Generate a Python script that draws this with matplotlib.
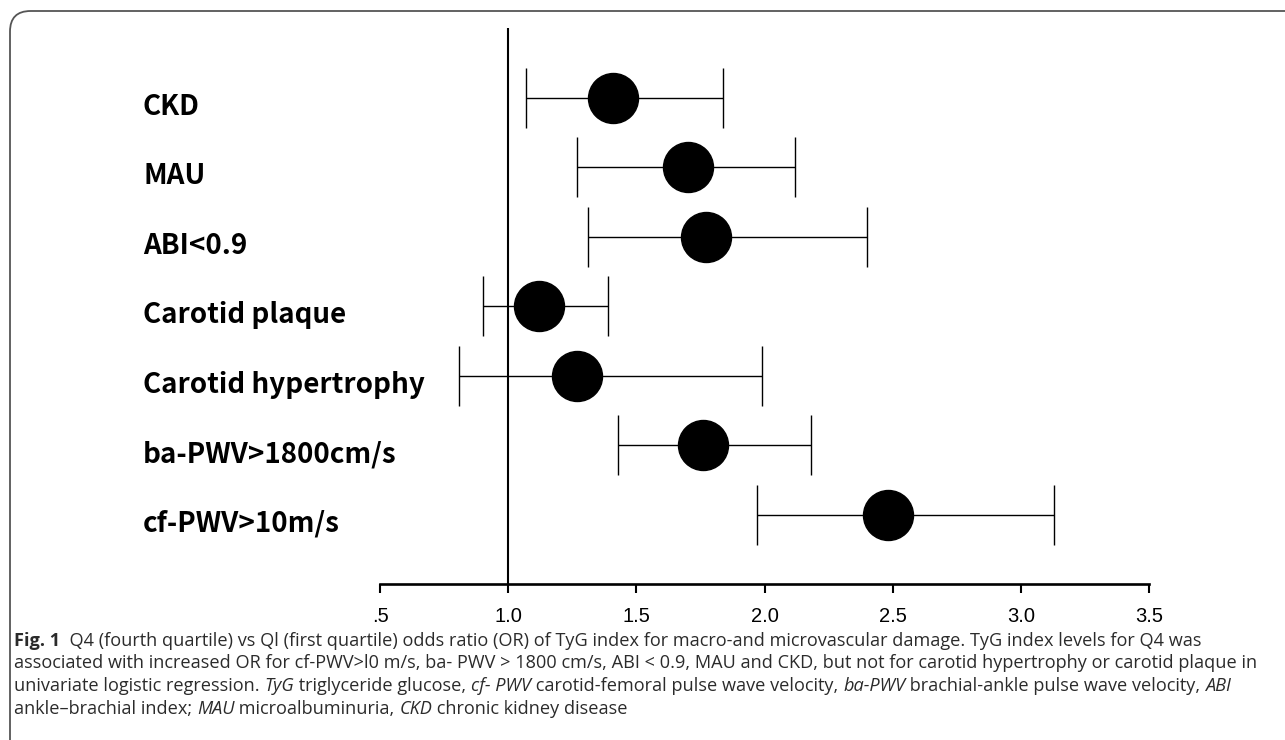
import numpy as np
import matplotlib.pyplot as plt
import matplotlib.transforms as mtransforms
from matplotlib.patches import FancyBboxPatch

# odds ratios (Q4 vs Q1) with 95% CI, top to bottom
labels = ["CKD", "MAU", "ABI<0.9", "Carotid plaque", "Carotid hypertrophy",
          "ba-PWV>1800cm/s", "cf-PWV>10m/s"]
or_vals = [1.41, 1.70, 1.77, 1.12, 1.27, 1.76, 2.48]
ci_low = [1.07, 1.27, 1.31, 0.90, 0.81, 1.43, 1.97]
ci_high = [1.84, 2.12, 2.40, 1.39, 1.99, 2.18, 3.13]
xticks = [0.5, 1.0, 1.5, 2.0, 2.5, 3.0, 3.5]
xticklabels = [".5", "1.0", "1.5", "2.0", "2.5", "3.0", "3.5"]

caption = [
    [("Fig. 1", "bold"), ("  Q4 (fourth quartile) vs Ql (first quartile) odds ratio (OR) of TyG index for macro-and microvascular damage. TyG index levels for Q4 was", "normal")],
    [("associated with increased OR for cf-PWV>l0 m/s, ba- PWV > 1800 cm/s, ABI < 0.9, MAU and CKD, but not for carotid hypertrophy or carotid plaque in", "normal")],
    [("univariate logistic regression. ", "normal"), ("TyG", "italic"), (" triglyceride glucose, ", "normal"),
     ("cf- PWV", "italic"), (" carotid-femoral pulse wave velocity, ", "normal"), ("ba-PWV", "italic"),
     (" brachial-ankle pulse wave velocity, ", "normal"), ("ABI", "italic")],
    [("ankle\u2013brachial index; ", "normal"), ("MAU", "italic"), (" microalbuminuria, ", "normal"),
     ("CKD", "italic"), (" chronic kidney disease", "normal")],
]

W, H = 1285, 740
fig = plt.figure(figsize=(W / 100, H / 100), dpi=100)
fig.patch.set_facecolor("white")

# rounded frame running off the right and bottom edges
frame = FancyBboxPatch((10 / W, -40 / H), 1320 / W, (H - 11 + 40) / H,
                       boxstyle="round,pad=0,rounding_size=0.016",
                       transform=fig.transFigure, fill=False,
                       edgecolor="#555555", linewidth=1.3, mutation_aspect=W / H)
fig.patches.append(frame)

ax = fig.add_axes([380 / W, 1 - 584.3 / H, 769 / W, (584.3 - 28) / H])
rows = np.arange(1, len(labels) + 1)
err = [np.array(or_vals) - np.array(ci_low), np.array(ci_high) - np.array(or_vals)]

ax.axvline(1.0, color="black", linewidth=1.5, zorder=1)
ax.errorbar(or_vals, rows, xerr=err, fmt="o", color="black", ecolor="black",
            elinewidth=1.0, capsize=21.5, capthick=1.0, markersize=36, zorder=3)

ax.set_xlim(0.5, 3.5)
ax.set_ylim(8, 0)
ax.set_xticks(xticks)
ax.set_xticklabels(xticklabels, fontfamily="Liberation Sans", fontsize=14.5)
ax.set_yticks([])
for s in ["top", "right", "left"]:
    ax.spines[s].set_visible(False)
ax.spines["bottom"].set_linewidth(1.9)
ax.tick_params(axis="x", direction="out", length=6.5, width=1.5, pad=10)

off = mtransforms.ScaledTranslation(0, -9 / 100, fig.dpi_scale_trans)
for y, lab in zip(rows, labels):
    ax.text((143 - 380) / 769, y, lab, transform=ax.get_yaxis_transform() + off,
            ha="left", va="center", fontsize=20, fontweight="bold",
            fontfamily="Noto Sans CJK SC", color="black")

# caption, drawn run by run so bold/italic pieces sit inline
fig.canvas.draw()
renderer = fig.canvas.get_renderer()
line_y = [641, 663.5, 686, 708.5]
for y, runs in zip(line_y, caption):
    x = 14
    for txt, style in runs:
        t = fig.text(x / W, 1 - y / H, txt, ha="left", va="center", fontsize=13.1,
                     fontfamily="Open Sans", color="#2b2b2b",
                     fontweight="bold" if style == "bold" else "normal",
                     fontstyle="italic" if style == "italic" else "normal")
        x += t.get_window_extent(renderer).width

fig.savefig("out.png", dpi=100)
